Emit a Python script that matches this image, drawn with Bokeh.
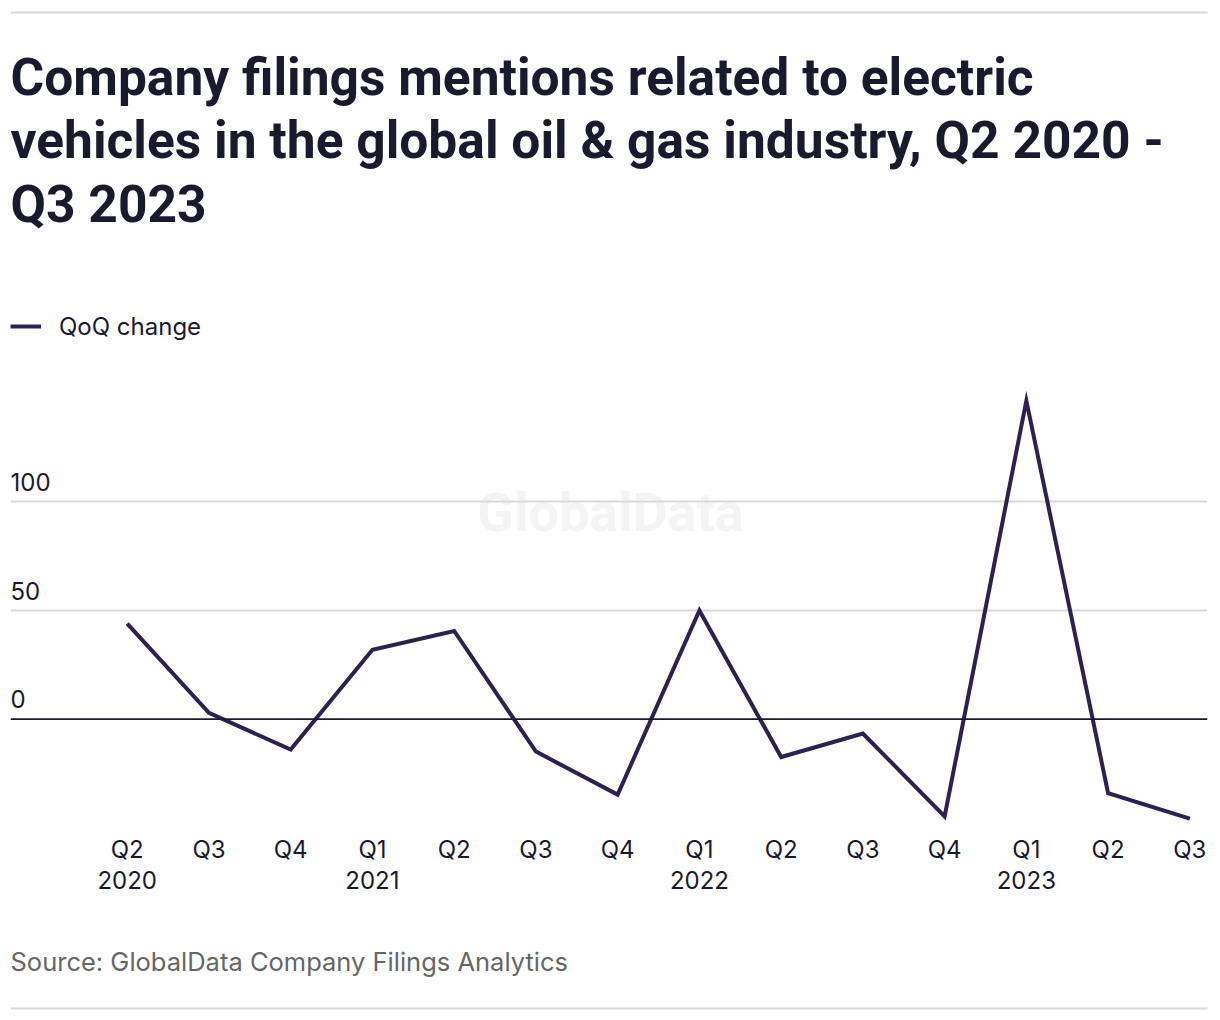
from bokeh.plotting import figure
from bokeh.models import Range1d, FixedTicker, Label, Span, Legend, LegendItem, BoxAnnotation
from bokeh.layouts import column
from bokeh.embed import file_html
from bokeh.resources import INLINE

# ---------------- data ----------------
quarters = ["Q2", "Q3", "Q4", "Q1", "Q2", "Q3", "Q4", "Q1", "Q2", "Q3", "Q4", "Q1", "Q2", "Q3"]
years = ["2020", "", "", "2021", "", "", "", "2022", "", "", "", "2023", "", ""]
qoq_change = [44.0, 2.9, -14.0, 31.9, 40.6, -14.9, -34.7, 50.0, -17.4, -6.6, -44.7, 146.5, -34.0, -45.7]
y_ticks = [0, 50, 100]
grid_ticks = [50, 100]
series_name = "QoQ change"
title_lines = [
    "Company filings mentions related to electric",
    "vehicles in the global oil & gas industry, Q2 2020 -",
    "Q3 2023",
]
source_text = "Source: GlobalData Company Filings Analytics"
watermark = "GlobalData"

# ---------------- style ----------------
W = 1212
BL, BR = 10, 5          # frame borders shared by all three figures (column aligns frames)
FX0, FX1 = BL, W - BR   # frame extent in page pixels
TFONT = "Roboto"
FONT = "Inter"
TXT = "#1a1a2e"
LINE = "#2e2151"
GRID = "#d9d9d9"
GREY = "#666666"

# ---------------- header ----------------
HH = 290
hdr = figure(width=W, height=HH, x_range=Range1d(FX0, FX1), y_range=Range1d(0, HH),
             output_backend="svg", toolbar_location=None,
             min_border_left=BL, min_border_right=BR, min_border_top=0, min_border_bottom=0,
             x_axis_location=None, y_axis_location=None)
hdr.grid.visible = False
hdr.outline_line_color = None
hdr.add_layout(BoxAnnotation(left=10, right=1210, bottom=277, top=279,
                             fill_color=GRID, fill_alpha=1, line_color=None))
for t, yc in zip(title_lines, [213, 150, 86]):
    hdr.add_layout(Label(x=10, y=yc, text=t, text_font=TFONT, text_font_style="bold",
                         text_font_size="51.5px", text_color=TXT, text_baseline="middle"))

# ---------------- chart ----------------
xs = list(range(len(qoq_change)))
p = figure(width=W, height=620, x_range=Range1d(-1.428, 13.216), y_range=Range1d(-51.2, 192.6),
           output_backend="svg", toolbar_location=None,
           min_border_left=BL, min_border_right=BR, min_border_top=10, min_border_bottom=80,
           y_axis_location=None)
p.outline_line_color = None
p.xgrid.visible = False
p.ygrid.ticker = FixedTicker(ticks=grid_ticks)
p.ygrid.grid_line_color = GRID
p.ygrid.grid_line_width = 2

p.add_layout(Label(x=600, y=318, x_units="screen", y_units="screen", text=watermark,
                   text_font=TFONT, text_font_style="bold", text_font_size="54px",
                   text_color="#f4f4f4", text_align="center", text_baseline="middle",
                   level="image"))

p.add_layout(Span(location=0, dimension="width", line_color=TXT, line_width=1.8))

r = p.line(xs, qoq_change, line_color=LINE, line_width=4, line_join="miter")

for t in y_ticks:
    p.add_layout(Label(x=0, x_units="screen", y=t, y_units="data", y_offset=20,
                       text=str(t), text_font=FONT, text_font_size="24px",
                       text_color=TXT, text_baseline="middle"))

xa = p.xaxis[0]
xa.ticker = FixedTicker(ticks=xs)
xa.major_label_overrides = {i: (q + ("\n" + y if y else "")) for i, (q, y) in enumerate(zip(quarters, years))}
xa.axis_line_color = None
xa.major_tick_line_color = None
xa.minor_tick_line_color = None
xa.major_tick_out = 0
xa.major_tick_in = 0
xa.major_label_standoff = 4
xa.major_label_text_font = FONT
xa.major_label_text_font_size = "24px"
xa.major_label_text_color = TXT
xa.major_label_text_line_height = 1.1

legend = Legend(items=[LegendItem(label=series_name, renderers=[r])], location="top_left",
                orientation="horizontal", margin=0, padding=0, spacing=0,
                glyph_width=31, glyph_height=52, label_height=52, label_standoff=18,
                label_text_font=FONT, label_text_font_size="24px", label_text_color=TXT,
                border_line_color=None, background_fill_alpha=0)
p.add_layout(legend)

# ---------------- footer ----------------
FH = 102
ftr = figure(width=W, height=FH, x_range=Range1d(FX0, FX1), y_range=Range1d(0, FH),
             output_backend="svg", toolbar_location=None,
             min_border_left=BL, min_border_right=BR, min_border_top=0, min_border_bottom=0,
             x_axis_location=None, y_axis_location=None)
ftr.grid.visible = False
ftr.outline_line_color = None
ftr.add_layout(Label(x=10, y=51, text=source_text, text_font=FONT, text_font_size="25.5px",
                     text_color=GREY, text_baseline="middle"))
ftr.add_layout(BoxAnnotation(left=10, right=1210, bottom=3, top=5,
                             fill_color=GRID, fill_alpha=1, line_color=None))

layout = column(hdr, p, ftr)
open("out.html", "w").write(file_html(layout, INLINE))
